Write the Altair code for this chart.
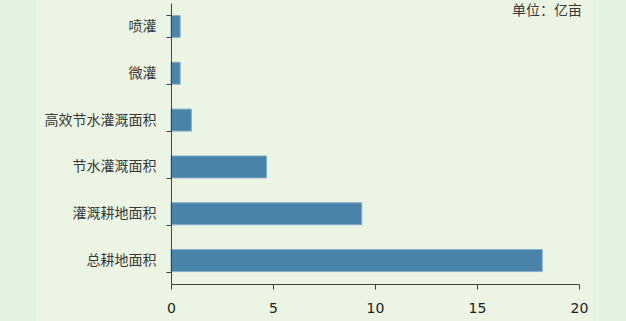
import altair as alt
import pandas as pd

categories = ["喷灌", "微灌", "高效节水灌溉面积", "节水灌溉面积", "灌溉耕地面积", "总耕地面积"]
values = [0.45, 0.45, 1.0, 4.68, 9.35, 18.2]
x_ticks = [0, 5, 10, 15, 20]
unit_label = "单位：亿亩"

df = pd.DataFrame({"category": categories, "value": values})

W, H = 408, 281
PAD_L, PAD_T = 171, 3

panel = alt.Chart(pd.DataFrame({"a": [0]})).mark_rect(color="#ecf4e4").encode(
    x=alt.value(36 - PAD_L), x2=alt.value(593 - PAD_L),
    y=alt.value(-PAD_T), y2=alt.value(321 - PAD_T)
)

bars = alt.Chart(df).mark_bar(
    color="#4a83a8", stroke="#86b0cf", strokeWidth=1
).encode(
    x=alt.X("value:Q", scale=alt.Scale(domain=[0, 20], nice=False),
            axis=alt.Axis(values=x_ticks, title=None, grid=False, labelPadding=12,
                          labelFontSize=14, labelColor="#222222", labelFont="DejaVu Sans",
                          domainColor="#3c463c", tickColor="#3c463c", tickSize=5,
                          labelFlush=False, zindex=1)),
    y=alt.Y("category:N", sort=categories,
            scale=alt.Scale(paddingInner=0.53, paddingOuter=0.265),
            axis=alt.Axis(title=None, tickBand="extent", labelPadding=10,
                          labelFontSize=14, labelColor="#383838", labelFont="Noto Sans CJK SC",
                          domainColor="#3c463c", tickColor="#3c463c", tickSize=5, zindex=1))
)

unit = alt.Chart(pd.DataFrame({"t": [unit_label]})).mark_text(
    align="right", baseline="middle", fontSize=14, color="#383838", font="Noto Sans CJK SC"
).encode(text="t:N", x=alt.value(582 - PAD_L), y=alt.value(11 - PAD_T))

chart = alt.layer(panel, bars, unit).properties(
    width=W, height=H,
    background="#e2f3e2",
    padding={"left": PAD_L, "top": PAD_T, "right": 626 - PAD_L - W, "bottom": 321 - PAD_T - H},
    autosize=alt.AutoSizeParams(type="none")
).configure_view(stroke=None)

chart.save("out.html", embed_options={"renderer": "svg", "actions": False})
